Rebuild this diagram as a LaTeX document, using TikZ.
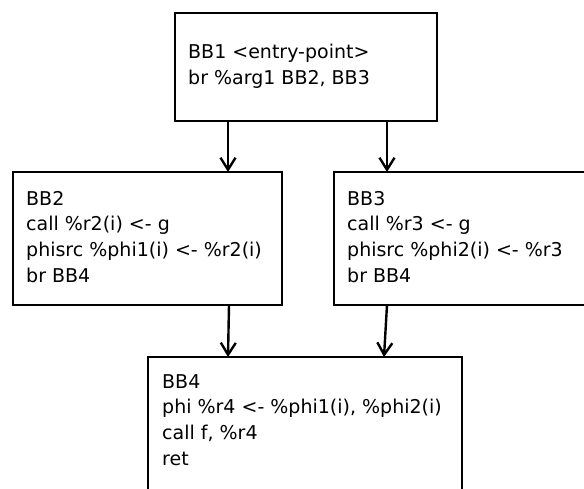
\documentclass[tikz,border=0pt]{standalone}
\usepackage{fontspec}
\setmainfont{DejaVu Sans}
\usetikzlibrary{arrows.meta,positioning}
\begin{document}
\begin{tikzpicture}[x=1pt,y=-1pt,
  block/.style={draw,line width=2.8pt,rectangle,anchor=north west,
    inner sep=0pt,outer sep=0pt},
  code/.style={anchor=base west,align=left,inner sep=0pt,
    font=\fontsize{19}{25.7}\selectfont},
  flow/.style={line width=2.4pt,-{Straight Barb[length=12pt,width=15pt,line width=2.4pt]}}]
\useasboundingbox (0,0) rectangle (584,489);
\clip (0,0) rectangle (584,489);

% basic blocks
\node[block,minimum width=262pt,minimum height=108pt] (bb1) at (175,13) {};
\node[block,minimum width=269pt,minimum height=133pt] (bb2) at (13,172) {};
\node[block,minimum width=280pt,minimum height=133pt] (bb3) at (334,172) {};
\node[block,minimum width=314pt,minimum height=160pt] (bb4) at (148,357) {};

% block contents (anchored on the baseline of the last line)
\node[code] (t1) at ([xshift=13pt,yshift=-71.7pt]bb1.north west)
  {BB1 <entry-point>\\br \%arg1 BB2, BB3};
\node[code] (t2) at ([xshift=13pt,yshift=-110.1pt]bb2.north west)
  {BB2\\call \%r2(i) <- g\\phisrc \%phi1(i) <- \%r2(i)\\br BB4};
\node[code] (t3) at ([xshift=13pt,yshift=-110.1pt]bb3.north west)
  {BB3\\call \%r3 <- g\\phisrc \%phi2(i) <- \%r3\\br BB4};
\node[code] (t4) at ([xshift=14pt,yshift=-108.1pt]bb4.north west)
  {BB4\\phi \%r4 <- \%phi1(i), \%phi2(i)\\call f, \%r4\\ret};

% control-flow edges
\draw[flow] ([xshift=53pt]bb1.south west) -- ([xshift=215pt]bb2.north west);
\draw[flow] ([xshift=212pt]bb1.south west) -- ([xshift=53pt]bb3.north west);
\draw[flow] ([xshift=216pt]bb2.south west) -- ([xshift=80pt]bb4.north west);
\draw[flow] ([xshift=53pt]bb3.south west) -- ([xshift=236pt]bb4.north west);
\end{tikzpicture}
\end{document}
